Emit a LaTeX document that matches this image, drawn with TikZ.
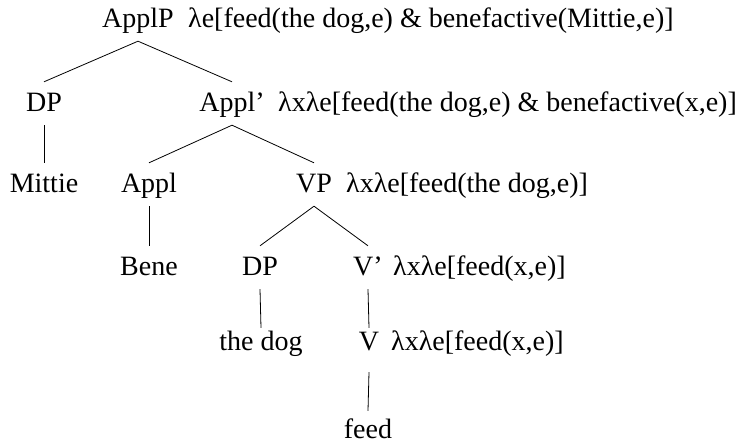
\documentclass[tikz,border=0pt]{standalone}
\usepackage{fontspec}
\setmainfont{Liberation Serif}
\begin{document}
\begin{tikzpicture}[x=1pt,y=-1pt,
  every node/.style={font=\fontsize{28}{32}\selectfont},
  cat/.style={inner sep=0pt, anchor=base, text height=30pt, text depth=13pt},
  low/.style={cat, text height=23pt, text depth=21pt},
  sem/.style={inner sep=0pt, anchor=base west},
  br/.style={line width=0.8pt}]
\useasboundingbox (0,0) rectangle (756,446);
% row 0
\node[cat] (applp) at (138,28) {ApplP};
\node[sem] (s0) at (188,28) {λe[feed(the dog,e) \& benefactive(Mittie,e)]};
% row 1
\node[cat] (dp1) at (44,112) {DP};
\node[cat] (applbar) at (232,112) {Appl’};
\node[sem] (s1) at (278,112) {λxλe[feed(the dog,e) \& benefactive(x,e)]};
% row 2
\node[cat] (mittie) at (44,193) {Mittie};
\node[cat] (appl) at (149,193) {Appl};
\node[cat] (vp) at (314,193) {VP};
\node[sem] (s2) at (346,193) {λxλe[feed(the dog,e)]};
% row 3
\node[cat] (bene) at (149,276) {Bene};
\node[cat] (dp2) at (260,276) {DP};
\node[cat] (vbar) at (368,276) {V’};
\node[sem] (s3) at (393,276) {λxλe[feed(x,e)]};
% row 4
\node[low] (thedog) at (261,351) {the dog};
\node[low] (v) at (369,351) {V};
\node[sem] (s4) at (391,351) {λxλe[feed(x,e)]};
% row 5
\node[cat, text height=28pt] (feed) at (368,439) {feed};
% edges
\draw[br] (applp.south) -- (dp1.north);
\draw[br] (applp.south) -- (applbar.north);
\draw[br] (dp1.south) -- (mittie.north);
\draw[br] (applbar.south) -- (appl.north);
\draw[br] (applbar.south) -- (vp.north);
\draw[br] (appl.south) -- (bene.north);
\draw[br] (vp.south) -- (dp2.north);
\draw[br] (vp.south) -- (vbar.north);
\draw[br] (dp2.south) -- (thedog.north);
\draw[br] (vbar.south) -- (v.north);
\draw[br] (v.south) -- (feed.north);
\end{tikzpicture}
\end{document}
